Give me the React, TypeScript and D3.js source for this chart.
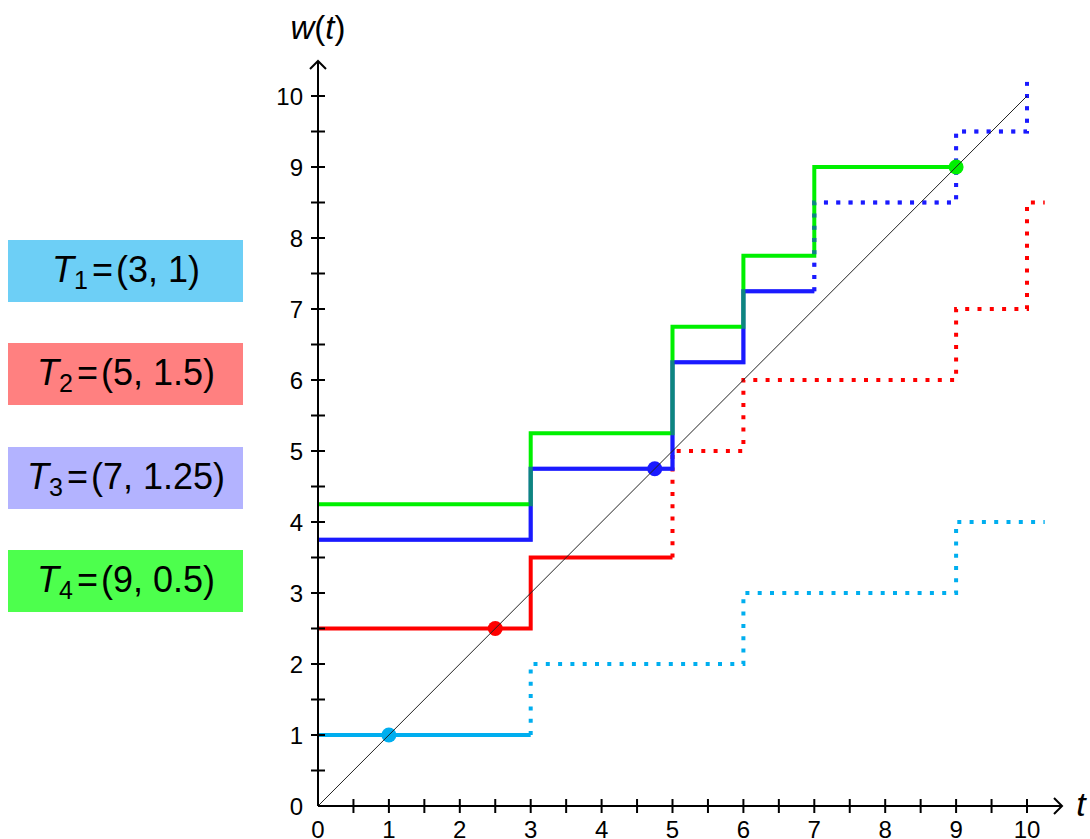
import React from "react";
import * as d3 from "d3";

// ---- data ----
const stepTimes = [0, 3, 5, 6, 7, 9, 10];
const levelsT1 = [1, 2, 2, 3, 3, 4, 4];
const levelsT2 = [2.5, 3.5, 5, 6, 6, 7, 8.5];
const levelsT3 = [3.75, 4.75, 6.25, 7.25, 8.5, 9.5, 11];
const levelsT4 = [4.25, 5.25, 6.75, 7.75, 9];
const solidUntil = [3, 5, 7, 9];
const dottedEnd = [10.25, 10.25, 10.25, null];
const markerPoints = [1, 2.5, 4.75, 9];
const legendLabels = [
  { idx: "1", value: "(3, 1)" },
  { idx: "2", value: "(5, 1.5)" },
  { idx: "3", value: "(7, 1.25)" },
  { idx: "4", value: "(9, 0.5)" },
];
const axisTickLabels = [0, 1, 2, 3, 4, 5, 6, 7, 8, 9, 10];
const minorTicks = d3.range(0.5, 10.01, 0.5);

const lineColors = ["#00aeef", "#ff0000", "#1a1aff", "#00f000"];
const boxColors = ["#6dcff6", "#ff8080", "#b3b3ff", "#4dff4d"];

const x = d3.scaleLinear().domain([0, 10]).range([318, 1027]);
const y = d3.scaleLinear().domain([0, 10]).range([806, 96]);

const stepLine = d3
  .line<[number, number]>()
  .x((d) => x(d[0]))
  .y((d) => y(d[1]))
  .curve(d3.curveStepAfter);

function buildPaths(levels: number[], until: number, end: number | null) {
  const pts: [number, number][] = levels.map((l, i) => [stepTimes[i], l]);
  const solid: [number, number][] = [];
  let lastLevel = pts[0][1];
  for (const p of pts) {
    if (p[0] < until) {
      solid.push(p);
      lastLevel = p[1];
    }
  }
  solid.push([until, lastLevel]);
  let dotted: [number, number][] | null = null;
  if (end !== null) {
    dotted = [[until, lastLevel]];
    let last = lastLevel;
    for (const p of pts) {
      if (p[0] >= until) {
        dotted.push(p);
        last = p[1];
      }
    }
    dotted.push([end, last]);
  }
  return { solid: stepLine(solid) as string, dotted: dotted ? (stepLine(dotted) as string) : null };
}

const allLevels = [levelsT1, levelsT2, levelsT3, levelsT4];
const paths = allLevels.map((l, i) => buildPaths(l, solidUntil[i], dottedEnd[i]));

const FONT = "'Liberation Sans', Arial, Helvetica, sans-serif";
const DASH = "4 8.3";

function Series({ i, opacity = 1 }: { i: number; opacity?: number }) {
  const p = paths[i];
  return (
    <g opacity={opacity}>
      <path d={p.solid} fill="none" stroke={lineColors[i]} strokeWidth={4} />
      {p.dotted && (
        <path d={p.dotted} fill="none" stroke={lineColors[i]} strokeWidth={4} strokeDasharray={DASH} />
      )}
    </g>
  );
}

export default function App() {
  const boxTops = [240, 343, 447, 550];
  return (
    <svg
      width={1090}
      height={839}
      style={{ position: "absolute", left: 0, top: 0, background: "#fff" }}
      fontFamily={FONT}
    >
      <defs>
        <clipPath id="plotClip">
          <rect x={0} y={y(10.2)} width={1090} height={839} />
        </clipPath>
      </defs>

      {/* legend boxes */}
      {legendLabels.map((lab, i) => (
        <g key={i}>
          <rect x={8} y={boxTops[i]} width={235} height={62} fill={boxColors[i]} />
          <text x={126} y={boxTops[i] + 42} fontSize={36} textAnchor="middle" fill="#000">
            <tspan fontStyle="italic">T</tspan>
            <tspan fontSize={25} dy={7}>{lab.idx}</tspan>
            <tspan dy={-7} dx={4}>=</tspan>
            <tspan dx={3}>{lab.value}</tspan>
          </text>
        </g>
      ))}

      {/* series */}
      <g clipPath="url(#plotClip)">
        <Series i={0} />
        <Series i={1} />
        <Series i={2} />
        <Series i={3} />
        <Series i={2} opacity={0.5} />
      </g>

      {/* markers */}
      {markerPoints.map((v, i) => (
        <circle key={i} cx={x(v)} cy={y(v)} r={7.5} fill={lineColors[i]} />
      ))}

      {/* diagonal */}
      <line x1={x(0)} y1={y(0)} x2={x(10)} y2={y(10)} stroke="#222" strokeWidth={1} />

      {/* axes */}
      <line x1={x(0)} y1={y(0)} x2={1062} y2={y(0)} stroke="#000" strokeWidth={2} />
      <path d={`M1054,${y(0) - 8} L1062,${y(0)} L1054,${y(0) + 8}`} fill="none" stroke="#000" strokeWidth={2} />
      <line x1={x(0)} y1={y(0)} x2={x(0)} y2={61} stroke="#000" strokeWidth={2} />
      <path d={`M${x(0) - 8},69 L${x(0)},61 L${x(0) + 8},69`} fill="none" stroke="#000" strokeWidth={2} />

      {minorTicks.map((t) => (
        <g key={t}>
          <line x1={x(t)} x2={x(t)} y1={y(0) - 7} y2={y(0) + 7} stroke="#000" strokeWidth={2} />
          <line x1={x(0) - 7} x2={x(0) + 7} y1={y(t)} y2={y(t)} stroke="#000" strokeWidth={2} />
        </g>
      ))}

      {axisTickLabels.map((t) => (
        <g key={t}>
          <text x={x(t)} y={838} fontSize={24} textAnchor="middle" fill="#000">
            {t}
          </text>
          <text x={303} y={y(t) + 8.5} fontSize={24} textAnchor="end" fill="#000">
            {t}
          </text>
        </g>
      ))}

      {/* axis labels */}
      <text x={1081} y={816} fontSize={34} fontStyle="italic" textAnchor="middle" fill="#000">
        t
      </text>
      <text x={318} y={39} fontSize={33} textAnchor="middle" fill="#000">
        <tspan fontStyle="italic">w</tspan>
        <tspan>(</tspan>
        <tspan fontStyle="italic">t</tspan>
        <tspan>)</tspan>
      </text>
    </svg>
  );
}
